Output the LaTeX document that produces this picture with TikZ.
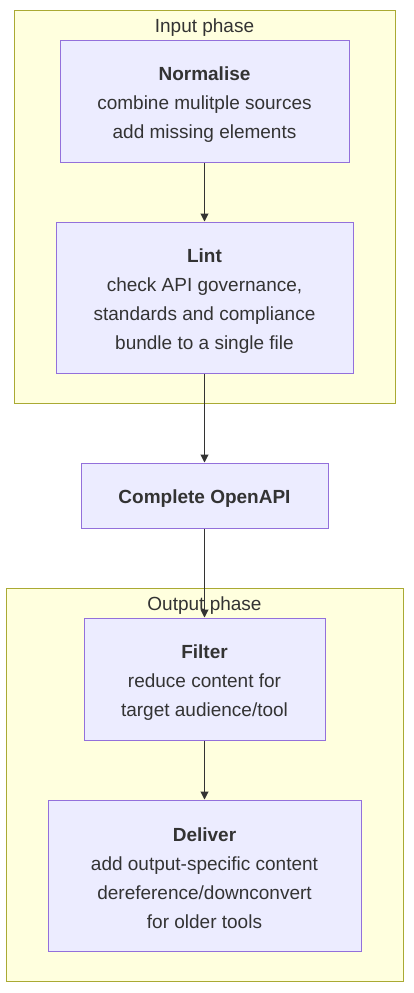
\documentclass[tikz,border=0pt]{standalone}
\usepackage{fontspec}
\setmainfont{Liberation Sans}
\usetikzlibrary{arrows.meta}
\definecolor{clusterfill}{HTML}{FFFFDE}
\definecolor{clusterline}{HTML}{AAAA33}
\definecolor{boxfill}{HTML}{ECECFF}
\definecolor{boxline}{HTML}{9370DB}
\definecolor{textgray}{HTML}{333333}
\newcommand{\stagetitle}[1]{\rule{0pt}{20pt}\textbf{#1}}
\begin{document}
\begin{tikzpicture}[x=1pt,y=-1pt,
	phase/.style={fill=clusterfill,draw=clusterline,line width=1pt},
	stage/.style={fill=boxfill,draw=boxline,line width=1pt,inner sep=0pt,align=center,text=textgray,font=\fontsize{19}{29}\selectfont},
	phaselabel/.style={text=textgray,font=\fontsize{19}{23}\selectfont,inner sep=0pt},
	flow/.style={draw=textgray,line width=1pt,-{Triangle[length=8pt,width=8pt]}}]
		\useasboundingbox (0,0) rectangle (414,993);
		% input phase
		\begin{scope}
		\draw[phase] (14,10) rectangle (395,403);
		\node[phaselabel] (inlabel) at (204.5,27.5) {Input phase};
		\node[stage,minimum width=289pt,minimum height=122pt] (normalise) at (204.5,101)
			{\stagetitle{Normalise}\\combine mulitple sources\\add missing elements};
		\node[stage,minimum width=297pt,minimum height=151pt] (lint) at (204.5,297.5)
			{\stagetitle{Lint}\\check API governance,\\standards and compliance\\bundle to a single file};
		\end{scope}
		\node[stage,minimum width=247pt,minimum height=65pt] (complete) at (204.5,495.5)
			{\stagetitle{Complete OpenAPI}};
		% output phase
		\begin{scope}
		\draw[phase] (6,588) rectangle (403,981);
		\node[phaselabel] (outlabel) at (204.5,605.5) {Output phase};
		\node[stage,minimum width=241pt,minimum height=122pt] (filter) at (204.5,679)
			{\stagetitle{Filter}\\reduce content for\\target audience/tool};
		\node[stage,minimum width=313pt,minimum height=151pt] (deliver) at (204.5,875.5)
			{\stagetitle{Deliver}\\add output-specific content\\dereference/downconvert\\for older tools};
		\end{scope}
		\draw[flow] (normalise) -- (lint);
		\draw[flow] (lint) -- (complete);
		\draw[flow] (complete) -- (filter);
		\draw[flow] (filter) -- (deliver);
\end{tikzpicture}
\end{document}
